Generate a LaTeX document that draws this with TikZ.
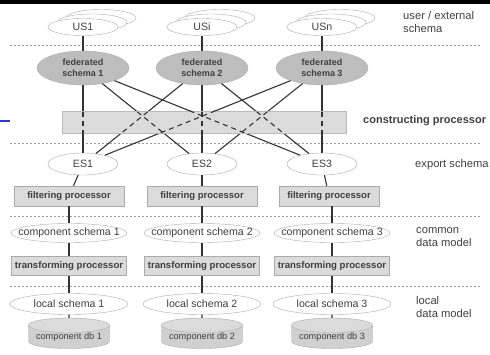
\documentclass[tikz,border=0pt]{standalone}
\usepackage{fontspec}
\setmainfont{Liberation Sans}
\usetikzlibrary{shapes.geometric,calc}

\definecolor{edgegray}{HTML}{ABABAB}
\definecolor{fedgray}{HTML}{BDBDBD}
\definecolor{boxgray}{HTML}{DBDBDB}
\definecolor{dbgray}{HTML}{D0D0D0}
\definecolor{linegray}{HTML}{333333}
\definecolor{textgray}{HTML}{404040}
\definecolor{markblue}{HTML}{1F3FCF}

\newcommand{\slimtext}[1]{\makebox[0pt]{#1}}

\begin{document}
\begin{tikzpicture}[x=1pt, y=-1pt,
    schema/.style={ellipse, draw=edgegray, fill=white, inner sep=0pt, text=textgray, font=\fontsize{10.6}{12}\selectfont},
    usschema/.style={schema, minimum width=70pt, minimum height=17pt},
    esschema/.style={schema, minimum width=70pt, minimum height=22pt},
    fedschema/.style={ellipse, draw=edgegray, fill=fedgray, minimum width=92pt, minimum height=34pt, inner sep=0pt, align=center, text=textgray, font=\bfseries\fontsize{9}{11.5}\selectfont},
    procbox/.style={rectangle, draw=edgegray, fill=boxgray, minimum height=20pt, inner sep=0pt, text=textgray, font=\bfseries\fontsize{9.5}{10}\selectfont},
    dbstack/.style={cylinder, shape border rotate=90, aspect=0.22, draw=edgegray, cylinder uses custom fill, cylinder body fill=dbgray, cylinder end fill=boxgray, minimum width=81pt, minimum height=30pt, inner sep=0pt, text=textgray, font=\fontsize{9.2}{10}\selectfont},
    sidelabel/.style={anchor=west, align=left, inner sep=0pt, text=textgray, font=\fontsize{11.2}{13}\selectfont},
    link/.style={draw=linegray, line width=1.1pt},
    levelline/.style={draw=gray!75, line width=0.8pt, dash pattern=on 2pt off 2pt}]

    \useasboundingbox (0,0) rectangle (490,354);

    %
    \def\ua{83}
    \def\ub{202}
    \def\uc{322}
    \def\la{69}
    \def\lb{202}
    \def\lc{332}

    %
    \draw[line width=3.5pt] (0,1.75) -- (490,1.75);
    \draw[markblue, line width=1.3pt] (0,121) -- (10,121);

    %
    \draw[levelline] (10,45) -- (480,45);
    \draw[levelline] (10,143) -- (480,143);
    \draw[levelline] (10,216) -- (480,216);
    \draw[levelline] (10,286) -- (480,286);

    %
    \node[usschema] (us1c) at (\ua+18,18) {};
    \node[usschema] (us1b) at (\ua+9,22.5) {};
    \node[usschema] (us1) at (\ua,27) {US1};
    \node[usschema] (usic) at (\ub+18,18) {};
    \node[usschema] (usib) at (\ub+9,22.5) {};
    \node[usschema] (usi) at (\ub,27) {USi};
    \node[usschema] (usnc) at (\uc+18,18) {};
    \node[usschema] (usnb) at (\uc+9,22.5) {};
    \node[usschema] (usn) at (\uc,27) {USn};

    %
    \node[fedschema] (fed1) at (\ua,68) {federated\\schema 1};
    \node[fedschema] (fed2) at (\ub,68) {federated\\schema 2};
    \node[fedschema] (fed3) at (\uc,68) {federated\\schema 3};

    %
    \node[esschema] (es1) at (\ua,164) {ES1};
    \node[esschema] (es2) at (\ub,164) {ES2};
    \node[esschema] (es3) at (\uc,164) {ES3};

    %
    \draw[link] (us1) -- (fed1);
    \draw[link] (usi) -- (fed2);
    \draw[link] (usn) -- (fed3);

    %
    \draw[link] (fed1) -- (es1);
    \draw[link] (fed1) -- (es2);
    \draw[link] (fed1) -- (es3);
    \draw[link] (fed2) -- (es1);
    \draw[link] (fed2) -- (es2);
    \draw[link] (fed2) -- (es3);
    \draw[link] (fed3) -- (es1);
    \draw[link] (fed3) -- (es2);
    \draw[link] (fed3) -- (es3);

    %
    \node[rectangle, draw=boxgray!85!black, fill=boxgray, minimum width=284pt, minimum height=22pt] (cons) at (204,122) {};
    \begin{scope}
        \clip (cons.north west) rectangle (cons.south east);
        \draw[link, dash pattern=on 5pt off 4pt] (fed1) -- (es1);
        \draw[link, dash pattern=on 5pt off 4pt] (fed1) -- (es2);
        \draw[link, dash pattern=on 5pt off 4pt] (fed1) -- (es3);
        \draw[link, dash pattern=on 5pt off 4pt] (fed2) -- (es1);
        \draw[link, dash pattern=on 5pt off 4pt] (fed2) -- (es2);
        \draw[link, dash pattern=on 5pt off 4pt] (fed2) -- (es3);
        \draw[link, dash pattern=on 5pt off 4pt] (fed3) -- (es1);
        \draw[link, dash pattern=on 5pt off 4pt] (fed3) -- (es2);
        \draw[link, dash pattern=on 5pt off 4pt] (fed3) -- (es3);
    \end{scope}

    %
    \node[procbox, minimum width=110pt] (filt1) at (\la,196) {filtering processor};
    \node[procbox, minimum width=110pt] (filt2) at (\lb,196) {filtering processor};
    \node[procbox, minimum width=100pt] (filt3) at (\lc-3,196) {filtering processor};

    \node[schema, minimum width=116pt, minimum height=19pt] (comp1) at (\la,233) {\slimtext{component schema 1}};
    \node[schema, minimum width=116pt, minimum height=19pt] (comp2) at (\lb,233) {\slimtext{component schema 2}};
    \node[schema, minimum width=116pt, minimum height=19pt] (comp3) at (\lc,233) {\slimtext{component schema 3}};

    \node[procbox, minimum width=115pt, minimum height=19pt, font=\bfseries\fontsize{9.6}{10}\selectfont] (trans1) at (\la,266) {transforming processor};
    \node[procbox, minimum width=115pt, minimum height=19pt, font=\bfseries\fontsize{9.6}{10}\selectfont] (trans2) at (\lb,266) {transforming processor};
    \node[procbox, minimum width=115pt, minimum height=19pt, font=\bfseries\fontsize{9.6}{10}\selectfont] (trans3) at (\lc,266) {transforming processor};

    \node[schema, minimum width=118pt, minimum height=21pt] (loc1) at (\la,304) {\slimtext{local schema 1}};
    \node[schema, minimum width=118pt, minimum height=21pt] (loc2) at (\lb,304) {\slimtext{local schema 2}};
    \node[schema, minimum width=118pt, minimum height=21pt] (loc3) at (\lc,304) {\slimtext{local schema 3}};

    \node[dbstack] (db1) at (\la,337) {component db 1};
    \node[dbstack] (db2) at (\lb,337) {component db 2};
    \node[dbstack] (db3) at (\lc,337) {component db 3};

    %
    \draw[link] (es1) -- (filt1);
    \draw[link] (es2) -- (filt2);
    \draw[link] (es3) -- (filt3);
    \draw[link] (filt1) -- (comp1);
    \draw[link] (filt2) -- (comp2);
    \draw[link] (filt3.south -| comp3) -- (comp3);
    \draw[link] (comp1) -- (trans1);
    \draw[link] (comp2) -- (trans2);
    \draw[link] (comp3) -- (trans3);
    \draw[link] (trans1) -- (loc1);
    \draw[link] (trans2) -- (loc2);
    \draw[link] (trans3) -- (loc3);
    \draw[link] (loc1) -- (db1);
    \draw[link] (loc2) -- (db2);
    \draw[link] (loc3) -- (db3);

    %
    \node[sidelabel] (lbluser) at (403,22) {user / external\\schema};
    \node[sidelabel, font=\bfseries\fontsize{11}{12}\selectfont] (lblcons) at (363,121) {constructing processor};
    \node[sidelabel] (lblexport) at (415,165) {export schema};
    \node[sidelabel] (lblcommon) at (416,237) {common\\data model};
    \node[sidelabel] (lbllocal) at (416,307) {local\\data model};

\end{tikzpicture}
\end{document}
